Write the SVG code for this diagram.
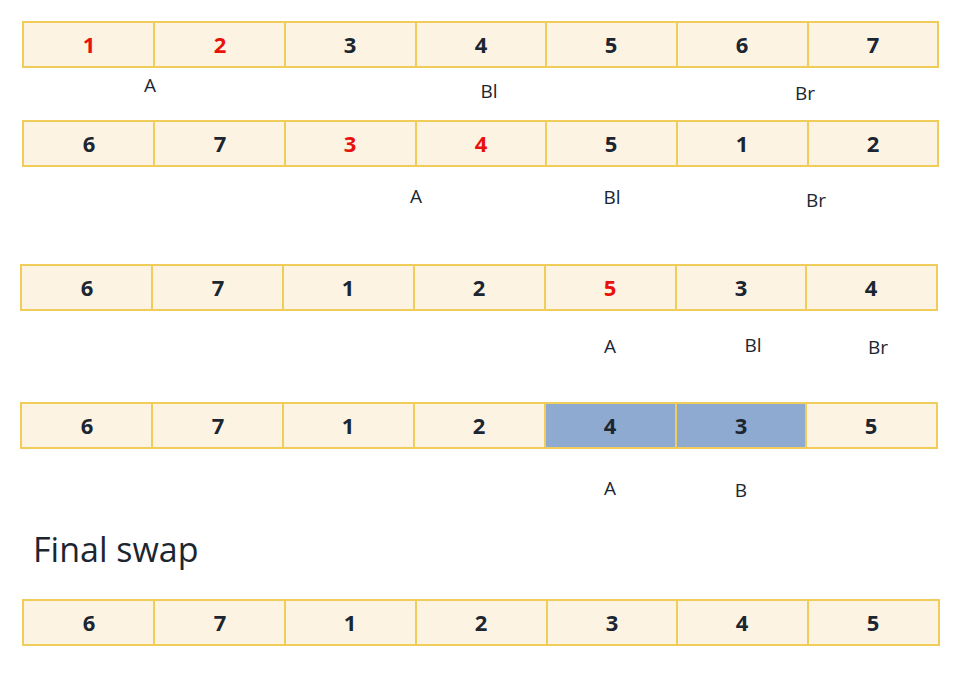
<svg xmlns="http://www.w3.org/2000/svg" width="967" height="681" viewBox="0 0 967 681">
<style>
.c{fill:#fdf3e3;stroke:#f0cc5a;stroke-width:2}
.b{fill:#8faad1;stroke:#f0cc5a;stroke-width:2}
.n{font-family:"Open Sans","Liberation Sans",sans-serif;font-weight:bold;font-size:22px;fill:#1b2631;text-anchor:middle}
.r{fill:#e8120c}
.l{font-family:"Open Sans","Liberation Sans",sans-serif;font-size:19px;fill:#1b2631;text-anchor:middle}
.t{font-family:"Open Sans","Liberation Sans",sans-serif;font-size:34px;fill:#1b2631}
</style>
<rect width="967" height="681" fill="#fff"/>
<g id="row1">
<rect class="c" x="23" y="22" width="131" height="45"/><rect class="c" x="154" y="22" width="131" height="45"/><rect class="c" x="285" y="22" width="131" height="45"/><rect class="c" x="416" y="22" width="130" height="45"/><rect class="c" x="546" y="22" width="131" height="45"/><rect class="c" x="677" y="22" width="131" height="45"/><rect class="c" x="808" y="22" width="130" height="45"/>
<text class="n r" x="89" y="53">1</text><text class="n r" x="220" y="53">2</text><text class="n" x="350" y="53">3</text><text class="n" x="481" y="53">4</text><text class="n" x="611" y="53">5</text><text class="n" x="742" y="53">6</text><text class="n" x="873" y="53">7</text>
<text class="l" x="150" y="92">A</text><text class="l" x="489" y="98">Bl</text><text class="l" x="805" y="100">Br</text>
</g>
<g id="row2">
<rect class="c" x="23" y="121" width="131" height="45"/><rect class="c" x="154" y="121" width="131" height="45"/><rect class="c" x="285" y="121" width="131" height="45"/><rect class="c" x="416" y="121" width="130" height="45"/><rect class="c" x="546" y="121" width="131" height="45"/><rect class="c" x="677" y="121" width="131" height="45"/><rect class="c" x="808" y="121" width="130" height="45"/>
<text class="n" x="89" y="152">6</text><text class="n" x="220" y="152">7</text><text class="n r" x="350" y="152">3</text><text class="n r" x="481" y="152">4</text><text class="n" x="611" y="152">5</text><text class="n" x="742" y="152">1</text><text class="n" x="873" y="152">2</text>
<text class="l" x="416" y="203">A</text><text class="l" x="612" y="204">Bl</text><text class="l" x="816" y="207">Br</text>
</g>
<g id="row3">
<rect class="c" x="21" y="265" width="131" height="45"/><rect class="c" x="152" y="265" width="131" height="45"/><rect class="c" x="283" y="265" width="131" height="45"/><rect class="c" x="414" y="265" width="131" height="45"/><rect class="c" x="545" y="265" width="131" height="45"/><rect class="c" x="676" y="265" width="130" height="45"/><rect class="c" x="806" y="265" width="131" height="45"/>
<text class="n" x="87" y="296">6</text><text class="n" x="218" y="296">7</text><text class="n" x="348" y="296">1</text><text class="n" x="479" y="296">2</text><text class="n r" x="610" y="296">5</text><text class="n" x="741" y="296">3</text><text class="n" x="871" y="296">4</text>
<text class="l" x="610" y="353">A</text><text class="l" x="753" y="352">Bl</text><text class="l" x="878" y="354">Br</text>
</g>
<g id="row4">
<rect class="c" x="21" y="403" width="131" height="45"/><rect class="c" x="152" y="403" width="131" height="45"/><rect class="c" x="283" y="403" width="131" height="45"/><rect class="c" x="414" y="403" width="131" height="45"/><rect class="b" x="545" y="403" width="131" height="45"/><rect class="b" x="676" y="403" width="130" height="45"/><rect class="c" x="806" y="403" width="131" height="45"/>
<text class="n" x="87" y="434">6</text><text class="n" x="218" y="434">7</text><text class="n" x="348" y="434">1</text><text class="n" x="479" y="434">2</text><text class="n" x="610" y="434">4</text><text class="n" x="741" y="434">3</text><text class="n" x="871" y="434">5</text>
<text class="l" x="610" y="495">A</text><text class="l" x="741" y="497">B</text>
</g>
<text class="t" x="33" y="562">Final swap</text>
<g id="row5">
<rect class="c" x="23" y="600" width="131" height="45"/><rect class="c" x="154" y="600" width="131" height="45"/><rect class="c" x="285" y="600" width="131" height="45"/><rect class="c" x="416" y="600" width="131" height="45"/><rect class="c" x="547" y="600" width="130" height="45"/><rect class="c" x="677" y="600" width="131" height="45"/><rect class="c" x="808" y="600" width="131" height="45"/>
<text class="n" x="89" y="631">6</text><text class="n" x="220" y="631">7</text><text class="n" x="350" y="631">1</text><text class="n" x="481" y="631">2</text><text class="n" x="612" y="631">3</text><text class="n" x="742" y="631">4</text><text class="n" x="873" y="631">5</text>
</g>
</svg>
